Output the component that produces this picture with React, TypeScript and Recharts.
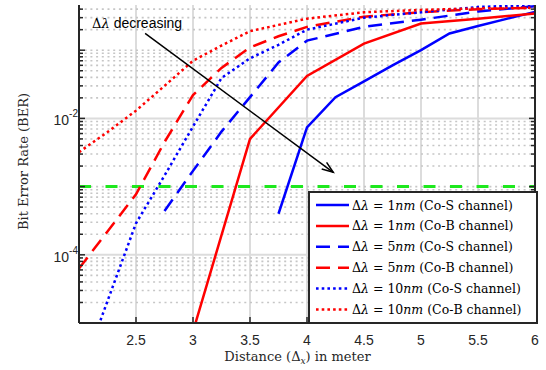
import React from 'react';
import {
  CartesianGrid, Label, Legend, Line, LineChart, ReferenceLine, XAxis, YAxis,
} from 'recharts';

// distance in meter
const distance = [2, 2.25, 2.5, 2.75, 3, 3.25, 3.5, 3.75, 4, 4.25, 4.5, 4.75, 5, 5.25, 5.5, 5.75, 6];

// BER per channel / wavelength spacing (null = no point)
const coS1 = [null, null, null, null, null, null, null, 4e-4, 7.4e-3, 2.05e-2, 3.5e-2, 6e-2, 0.1, 0.176, 0.226, 0.288, 0.365];
const coB1 = [null, null, null, null, 7.5e-6, null, 5e-3, null, 0.042, null, 0.125, null, 0.246, null, 0.29, null, 0.346];
const coS5 = [null, null, null, 4.4e-4, 1.7e-3, 6.4e-3, 0.0205, 0.066, 0.138, null, 0.22, null, 0.28, null, 0.37, null, 0.44];
const coB5 = [6.3e-5, 2.2e-4, 7.7e-4, 4.5e-3, 0.022, 0.055, 0.11, 0.16, 0.22, null, 0.31, null, 0.36, null, 0.4, null, 0.42];
const coS10 = [1.5e-6, 2.1e-5, 2.9e-4, 1.45e-3, 7.6e-3, 0.039, 0.076, 0.12, 0.2, null, 0.3, null, 0.36, null, 0.43, null, 0.46];
const coB10 = [3.2e-3, 6.3e-3, 0.013, 0.03, 0.07, 0.117, 0.19, 0.235, 0.29, null, 0.36, null, 0.39, null, 0.41, null, 0.42];

const FEC_LIMIT = 1e-3;

const X_DOMAIN: [number, number] = [2, 6];
const Y_DOMAIN: [number, number] = [1e-5, 0.46];
const xTicks = [2, 2.5, 3, 3.5, 4, 4.5, 5, 5.5, 6];
const xTickLabels = ['2', '2.5', '3', '3.5', '4', '4.5', '5', '5.5', '6'];
const yLabelled = [1e-4, 1e-2];
const yLabelExp = ['-4', '-2'];

// decades plus 2..9 multiples inside the domain
const yAllTicks: number[] = [];
for (let e = -5; e <= -1; e++) {
  for (let m = 1; m <= 9; m++) {
    const v = m * Math.pow(10, e);
    if (v >= Y_DOMAIN[0] && v <= Y_DOMAIN[1]) yAllTicks.push(+v.toPrecision(3));
  }
}
const yMinorGrid = yAllTicks.filter((v) => !yLabelled.includes(v));

// arrow annotation, data coords
const arrowFrom = { x: 2.58, y: 0.176 };
const arrowTo = { x: 4.23, y: 1.62e-3 };

const BLUE = '#0000ff';
const RED = '#ff0000';
const AXIS = '#262626';
const SANS = '"Liberation Sans", Arial, Helvetica, sans-serif';
const SERIF = '"DejaVu Serif", "Liberation Serif", serif';

const DASHED = '14 8';
const DOTTED = '2.6 3.1';

const series = [
  { key: 'coS1', nm: '1', ch: 'Co-S', color: BLUE, dash: undefined as string | undefined },
  { key: 'coB1', nm: '1', ch: 'Co-B', color: RED, dash: undefined },
  { key: 'coS5', nm: '5', ch: 'Co-S', color: BLUE, dash: DASHED },
  { key: 'coB5', nm: '5', ch: 'Co-B', color: RED, dash: DASHED },
  { key: 'coS10', nm: '10', ch: 'Co-S', color: BLUE, dash: DOTTED },
  { key: 'coB10', nm: '10', ch: 'Co-B', color: RED, dash: DOTTED },
];

const data = distance.map((x, i) => ({
  x,
  coS1: coS1[i],
  coB1: coB1[i],
  coS5: coS5[i],
  coB5: coB5[i],
  coS10: coS10[i],
  coB10: coB10[i],
}));

const isDecade = (v: number) => Math.abs(Math.log10(v) - Math.round(Math.log10(v))) < 1e-6;

const LeftTick = (props: any) => {
  const { x, y, payload } = props;
  const v = payload.value as number;
  const len = isDecade(v) ? 6 : 4;
  const idx = yLabelled.indexOf(v);
  return (
    <g>
      <line x1={x} y1={y} x2={x + len} y2={y} stroke={AXIS} strokeWidth={1.5} />
      {idx >= 0 && (
        <text x={x - 1} y={y + 7} textAnchor="end" fontFamily={SANS} fontSize={14} fill={AXIS}>
          10<tspan dy={-8} fontSize={10}>{yLabelExp[idx]}</tspan>
        </text>
      )}
    </g>
  );
};

const RightTick = (props: any) => {
  const { x, y, payload } = props;
  const len = isDecade(payload.value) ? 6 : 4;
  return <line x1={x} y1={y} x2={x - len} y2={y} stroke={AXIS} strokeWidth={1.5} />;
};

const BottomTick = (props: any) => {
  const { x, y, payload, index } = props;
  return (
    <g>
      <line x1={x} y1={y} x2={x} y2={y - 6} stroke={AXIS} strokeWidth={1.5} />
      {index > 0 && (
        <text x={x} y={y + 22} textAnchor="middle" fontFamily={SANS} fontSize={14} fill={AXIS}>
          {xTickLabels[xTicks.indexOf(payload.value)]}
        </text>
      )}
    </g>
  );
};

const TopTick = (props: any) => {
  const { x, y } = props;
  return <line x1={x} y1={y} x2={x} y2={y + 6} stroke={AXIS} strokeWidth={1.5} />;
};

const Arrow = (props: any) => {
  const { x1, y1, x2, y2 } = props;
  const a = Math.atan2(y2 - y1, x2 - x1);
  const head = 12;
  const spread = 0.35;
  const p1 = [x2 - head * Math.cos(a - spread), y2 - head * Math.sin(a - spread)];
  const p2 = [x2 - head * Math.cos(a + spread), y2 - head * Math.sin(a + spread)];
  return (
    <g>
      <line x1={x1} y1={y1} x2={x2} y2={y2} stroke="#000" strokeWidth={1.5} />
      <path d={`M${p1[0]},${p1[1]} L${x2},${y2} L${p2[0]},${p2[1]}`} fill="none" stroke="#000" strokeWidth={1.5} />
      <text x={x1 - 53} y={y1 - 5} fontSize={14} fill="#000">
        <tspan fontFamily={SERIF} fontSize={13}>Δ</tspan>
        <tspan fontFamily={SERIF} fontSize={13} fontStyle="italic">λ</tspan>
        <tspan fontFamily={SANS}> decreasing</tspan>
      </text>
    </g>
  );
};

const renderLegend = () => (
  <svg width={230} height={133}>
    <rect x={1} y={1} width={228} height={131} fill="#fff" stroke={AXIS} strokeWidth={2} />
    {series.map((s, i) => {
      const cy = 14 + i * 20.9;
      return (
        <g key={s.key}>
          <line x1={8} y1={cy} x2={41} y2={cy} stroke={s.color} strokeWidth={2.5} strokeDasharray={s.dash} />
          <text x={44} y={cy + 4.5} fontFamily={SERIF} fontSize={12.5} fill="#000">
            Δ<tspan fontStyle="italic">λ</tspan> = {s.nm}
            <tspan fontStyle="italic">nm</tspan> ({s.ch} channel)
          </text>
        </g>
      );
    })}
  </svg>
);

export default function App() {
  return (
    <div style={{ position: 'absolute', left: 0, top: 0, background: '#fff' }}>
      <LineChart width={546} height={370} data={data} margin={{ top: 5, right: 0, bottom: 0, left: 0 }}>
        <CartesianGrid
          stroke="#dcdcdc"
          strokeWidth={2}
          verticalValues={[2.5, 3, 3.5, 4, 4.5, 5, 5.5]}
          horizontalValues={yLabelled}
        />
        <CartesianGrid
          stroke="#c6c6c6"
          strokeWidth={1.6}
          strokeDasharray="2 3.7"
          vertical={false}
          horizontalValues={yMinorGrid}
        />
        <XAxis
          dataKey="x"
          type="number"
          domain={X_DOMAIN}
          ticks={xTicks}
          height={47}
          tickSize={0}
          tickMargin={0}
          tickLine={false}
          axisLine={{ stroke: AXIS, strokeWidth: 2 }}
          tick={<BottomTick />}
          interval={0}
        >
          <Label
            content={() => (
              <text x={297.5} y={361} textAnchor="middle" fontFamily={SERIF} fontSize={13} fill={AXIS}>
                Distance (Δ<tspan fontStyle="italic" fontSize={9} dy={3}>x</tspan>
                <tspan dy={-3}>) in meter</tspan>
              </text>
            )}
          />
        </XAxis>
        <XAxis
          xAxisId="top"
          orientation="top"
          dataKey="x"
          type="number"
          domain={X_DOMAIN}
          ticks={xTicks.slice(1, -1)}
          height={0}
          tickSize={0}
          tickMargin={0}
          tickLine={false}
          axisLine={{ stroke: AXIS, strokeWidth: 2 }}
          tick={<TopTick />}
          interval={0}
        />
        <YAxis
          type="number"
          scale="log"
          domain={Y_DOMAIN}
          allowDataOverflow
          ticks={yAllTicks}
          width={79}
          tickSize={0}
          tickMargin={0}
          tickLine={false}
          axisLine={{ stroke: AXIS, strokeWidth: 2 }}
          tick={<LeftTick />}
          interval={0}
        >
          <Label
            content={() => (
              <text
                x={28}
                y={161.5}
                transform="rotate(-90 28 161.5)"
                textAnchor="middle"
                fontFamily={SERIF}
                fontSize={13}
                fill={AXIS}
              >
                Bit Error Rate (BER)
              </text>
            )}
          />
        </YAxis>
        <YAxis
          yAxisId="right"
          orientation="right"
          type="number"
          scale="log"
          domain={Y_DOMAIN}
          allowDataOverflow
          ticks={yAllTicks}
          width={11}
          tickSize={0}
          tickMargin={0}
          tickLine={false}
          axisLine={{ stroke: AXIS, strokeWidth: 2 }}
          tick={<RightTick />}
          interval={0}
        />
        <ReferenceLine y={FEC_LIMIT} stroke="#1ee81e" strokeWidth={3} strokeDasharray="12 14.5" />
        {series.map((s) => (
          <Line
            key={s.key}
            dataKey={s.key}
            type="linear"
            stroke={s.color}
            strokeWidth={2.5}
            strokeDasharray={s.dash}
            dot={false}
            connectNulls
            isAnimationActive={false}
          />
        ))}
        <ReferenceLine segment={[arrowFrom, arrowTo]} shape={<Arrow />} />
        <Legend
          content={renderLegend}
          layout="horizontal"
          verticalAlign="middle"
          align="center"
          wrapperStyle={{ left: 308, top: 191, width: 230, height: 133 }}
        />
      </LineChart>
    </div>
  );
}
